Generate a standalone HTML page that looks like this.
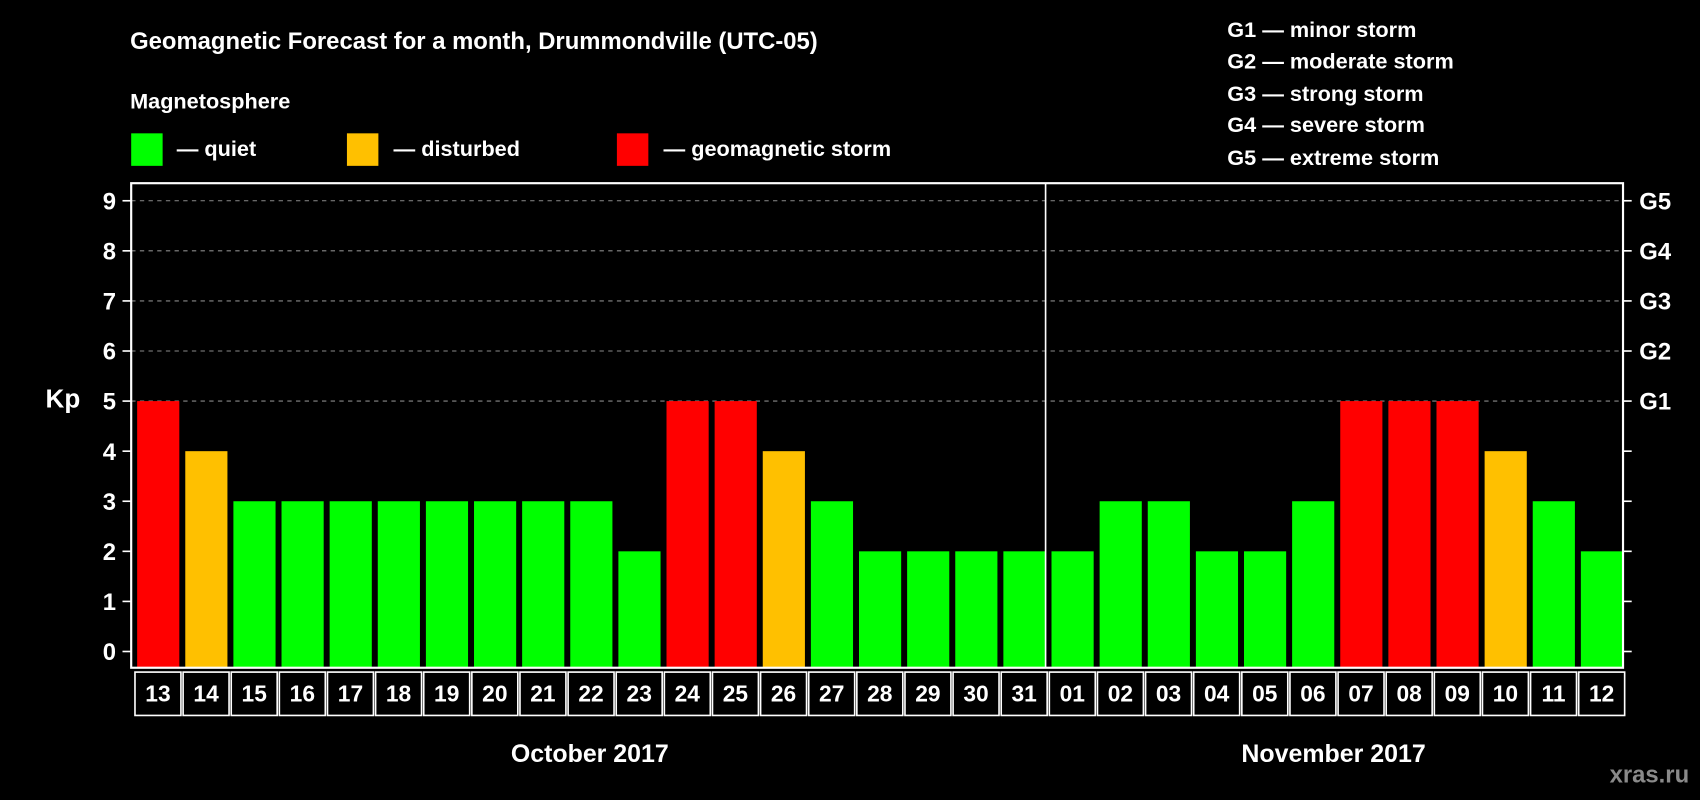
<!DOCTYPE html>
<html><head><meta charset="utf-8"><style>
html,body{margin:0;padding:0;background:#000;}
svg{display:block;font-family:"Liberation Sans",Arial,sans-serif;font-weight:bold;}
</style></head><body>
<svg id="chart" width="1700" height="800" viewBox="0 0 1568 738" preserveAspectRatio="none" xmlns="http://www.w3.org/2000/svg">
<rect width="1568" height="738" fill="#000"/>
<text x="120" y="45" fill="#fff" font-size="22">Geomagnetic Forecast for a month, Drummondville (UTC-05)</text>
<text x="120" y="100" fill="#fff" font-size="20">Magnetosphere</text>
<g><rect x="121" y="123" width="29" height="30" fill="#00ff00"/><text x="163" y="144" fill="#fff" font-size="20">— quiet</text></g>
<g><rect x="320" y="123" width="29" height="30" fill="#ffc000"/><text x="363" y="144" fill="#fff" font-size="20">— disturbed</text></g>
<g><rect x="569" y="123" width="29" height="30" fill="#ff0000"/><text x="612" y="144" fill="#fff" font-size="20">— geomagnetic storm</text></g>
<g fill="#fff" font-size="20">
<text x="1132" y="34">G1 — minor storm</text>
<text x="1132" y="63">G2 — moderate storm</text>
<text x="1132" y="93">G3 — strong storm</text>
<text x="1132" y="122">G4 — severe storm</text>
<text x="1132" y="152">G5 — extreme storm</text>
</g>
<g id="grid"></g>
<g id="bars"></g>
<rect x="121" y="169" width="1376" height="447" fill="none" stroke="#fff" stroke-width="2"/>
<line x1="964.4" y1="169" x2="964.4" y2="616" stroke="#fff" stroke-width="1.5"/>
<g id="axes"></g>
<g id="dates"></g>
<text x="58" y="376" fill="#fff" font-size="24" text-anchor="middle">Kp</text>
<text x="544" y="703" fill="#fff" font-size="23" text-anchor="middle">October 2017</text>
<text x="1230" y="703" fill="#fff" font-size="23" text-anchor="middle">November 2017</text>
<text x="1558" y="722" fill="#8a8a8a" font-size="22" text-anchor="end">xras.ru</text>
</svg>
<script>
const days = ["13","14","15","16","17","18","19","20","21","22","23","24","25","26","27","28","29","30","31","01","02","03","04","05","06","07","08","09","10","11","12"];
const kpValues = [5,4,3,3,3,3,3,3,3,3,2,5,5,4,3,2,2,2,2,2,3,3,2,2,3,5,5,5,4,3,2];
const yTicks = [0,1,2,3,4,5,6,7,8,9];
const gLabels = ["G1","G2","G3","G4","G5"];
const NS="http://www.w3.org/2000/svg";
const X0=121,X1=1497,BOT=616;
const step=(X1-X0)/days.length;
function yS(v){return 601-v*46.2;}
function xS(i){return X0+i*step;}
function mk(tag,attrs,parent){const e=document.createElementNS(NS,tag);for(const k in attrs)e.setAttribute(k,attrs[k]);parent.appendChild(e);return e;}
function color(v){return v>=5?"#ff0000":(v>=4?"#ffc000":"#00ff00");}
const grid=document.getElementById("grid"),bars=document.getElementById("bars"),axes=document.getElementById("axes"),dates=document.getElementById("dates");
yTicks.forEach(v=>{
  const y=yS(v);
  if(v>=5){const l=mk("line",{x1:X0,y1:y,x2:X1,y2:y,stroke:"#8a8a8a","stroke-width":1,"stroke-dasharray":"4,4"},grid);
    
    }
  mk("line",{x1:113,y1:y,x2:X0,y2:y,stroke:"#fff","stroke-width":1.5},axes);
  mk("line",{x1:X1,y1:y,x2:1505,y2:y,stroke:"#fff","stroke-width":1.5},axes);
  const t=mk("text",{x:107,y:y+8,fill:"#fff","font-size":22,"text-anchor":"end"},axes);
  t.textContent=v;
  
  
  if(v>=5){const g=mk("text",{x:1512,y:y+8,fill:"#fff","font-size":22},axes);
    g.textContent=gLabels[v-5];
    
    }
});
kpValues.forEach((v,i)=>{
  const y=yS(v);
  const r=mk("rect",{x:xS(i)+5.5,y:y,width:step-5.5,height:BOT-y,fill:color(v)},bars);
  
  
});
days.forEach((d,i)=>{
  const c=mk("rect",{x:xS(i)+3.5,y:620,width:step-2,height:40,fill:"none",stroke:"#fff","stroke-width":1.5},dates);
  
  
  const t=mk("text",{x:xS(i)+step/2+2.5,y:647,fill:"#fff","font-size":21,"text-anchor":"middle"},dates);
  t.textContent=d;
  
  
});
</script>
</body></html>
